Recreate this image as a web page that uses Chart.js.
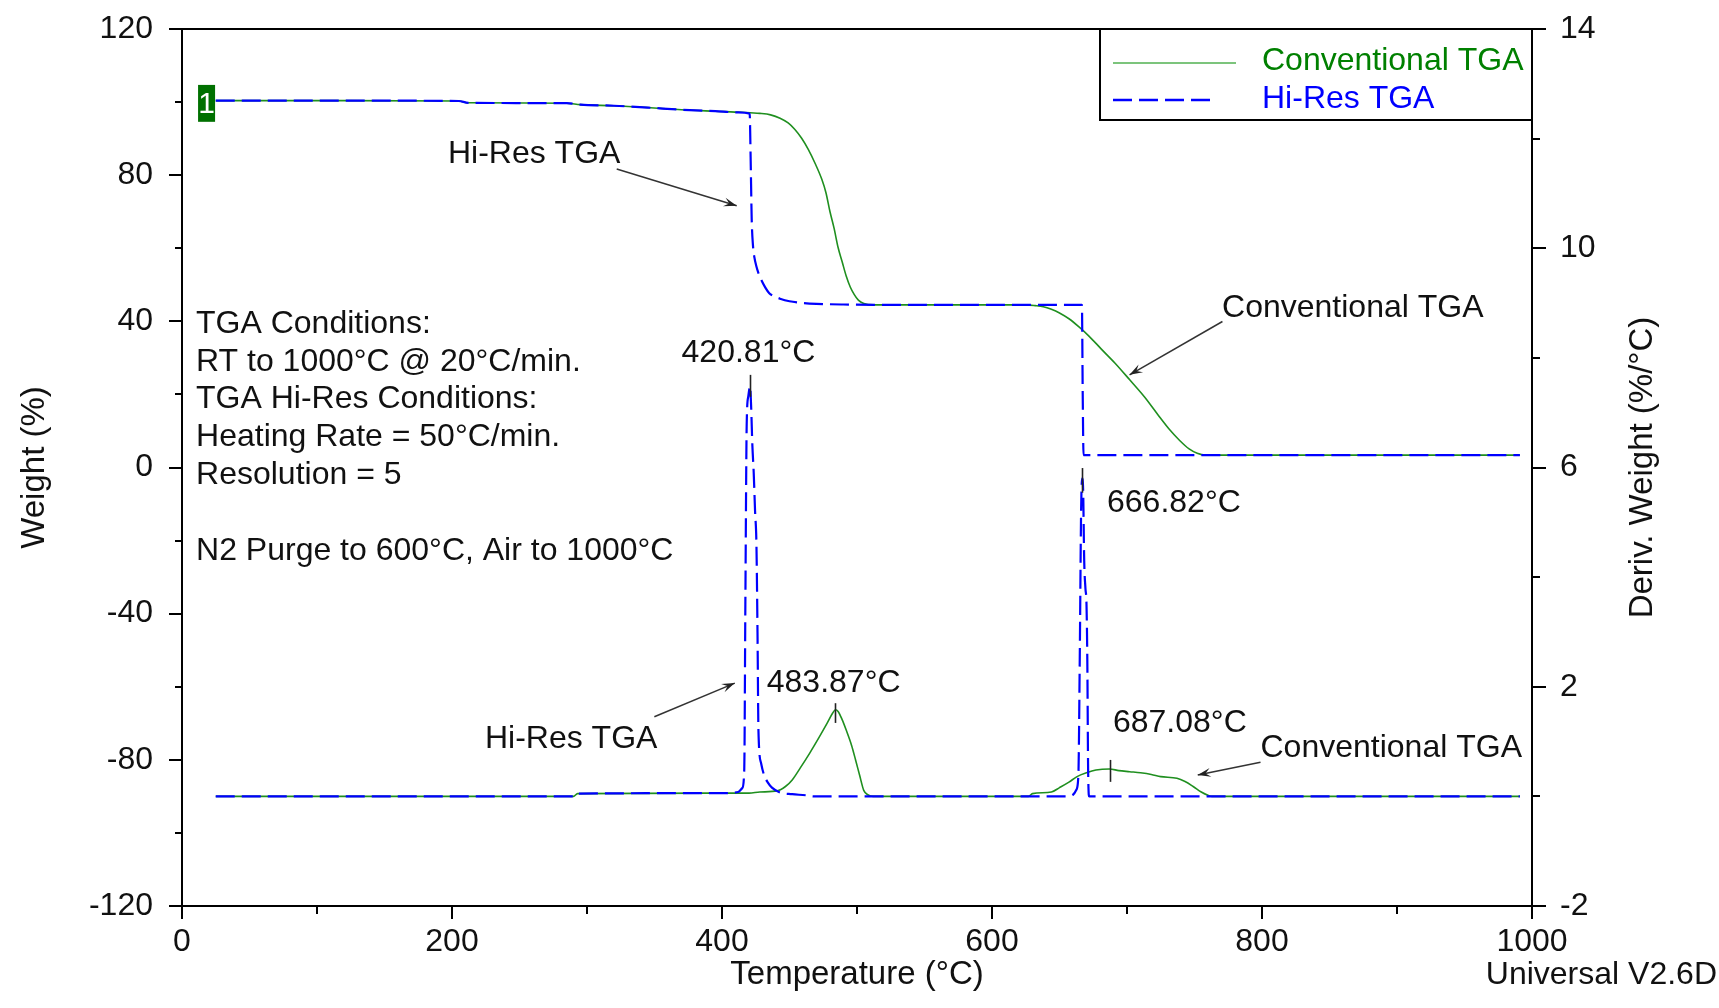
<!DOCTYPE html>
<html><head><meta charset="utf-8">
<script src="https://cdn.jsdelivr.net/npm/chart.js@4.4.1/dist/chart.umd.min.js"></script>
<style>html,body{margin:0;padding:0;background:#fff;overflow:hidden}#wrap{width:1719px;height:1008px;position:relative}</style>
</head><body><div id="wrap"><canvas id="c"></canvas></div>
<script>
// ---------- data ----------
const convWeightTemp = [25,120,205,212,285,295,320,345,370,395,415,428,436,443,449,454,459,464,469,474,477,480,483,486,489,492,495,498,501,505,512,560,625,632,638,644,650,657,664,672,681,691,702,713,724,731,739,746,752,758,800,900,991];
const convWeight     = [100.4,100.4,100.3,99.8,99.7,99.3,99.0,98.5,97.9,97.5,97.2,96.9,96.5,95.6,94.3,92.5,90.1,87.0,83.2,78.8,75.2,70.0,65.5,60.2,56.3,52.4,49.4,47.3,45.8,44.9,44.5,44.5,44.5,44.3,44.0,43.3,42.3,40.7,38.6,35.9,32.4,28.6,24.0,19.3,13.9,10.6,7.4,5.1,3.9,3.4,3.4,3.4,3.4];

const hiresWeightTemp = [25,120,205,212,285,295,320,345,370,395,412,420.5,421.2,422,423,424,425.5,427,429,432,435,439,443,450,458,470,490,520,600,666.6,667.2,667.8,700,800,900,991];
const hiresWeight     = [100.4,100.4,100.3,99.8,99.7,99.3,99.0,98.5,97.9,97.5,97.2,96.8,85,68,60.5,57.5,55,53.2,51.4,49.3,47.7,46.8,46.2,45.5,45.1,44.8,44.6,44.5,44.5,44.5,20,3.4,3.4,3.4,3.4,3.4];

const convDerivTemp = [25,290,293,420,428,441,447,452,458,465,472,478,482,484,486,489,492,496,499,502,505,508,512,627,630,644,650,657,663,670,677,687,694,702,710,718,725,737,743,749,755,760,763,991];
const convDeriv     = [0,0,0.05,0.06,0.08,0.1,0.18,0.30,0.52,0.79,1.08,1.34,1.52,1.58,1.55,1.40,1.21,0.93,0.66,0.38,0.11,0.03,0,0,0.05,0.08,0.16,0.26,0.36,0.43,0.48,0.50,0.47,0.45,0.43,0.40,0.36,0.33,0.27,0.18,0.08,0.02,0,0];

const hiresDerivTemp = [25,290,293,405,412,415,416.5,417.3,418.3,419.5,420.8,421.6,422.5,423.5,424.5,425.5,426.3,427,429,431,434,437,443,452,462,468,655,660,662.5,664,665,666,666.8,667.5,668.3,669.2,670,670.6,671.2,672,991];
const hiresDeriv     = [0,0,0.05,0.06,0.08,0.15,0.5,3.5,6.8,7.3,7.48,7.1,6.4,5.9,5.2,4.6,3.0,1.2,0.6,0.4,0.25,0.16,0.07,0.04,0.02,0,0,0.03,0.12,0.4,2.5,5.2,5.8,5.6,4.3,3.8,3.5,2.5,0.5,0,0];

const tempTicks   = [0,200,400,600,800,1000];
const weightTicks = [-120,-80,-40,0,40,80,120];
const derivTicks  = [-2,2,6,10,14];

const peakTemps = [420.81, 483.87, 666.82, 687.08];
const seriesNames = ['Conventional TGA', 'Hi-Res TGA'];
const conditionLines = ['TGA Conditions:', 'RT to 1000°C @ 20°C/min.', 'TGA Hi-Res Conditions:', 'Heating Rate = 50°C/min.', 'Resolution = 5', '', 'N2 Purge to 600°C, Air to 1000°C'];

// ---------- layout / annotation placement (data space) ----------
const peakNoteLayout = [
  {align:'center', lx:419.6, lw:29.0,   tick:[7.69,7.29]},
  {align:'center', lx:482.7, lw:-61.4,  tick:[1.70,1.34]},
  {align:'left',   lx:685.2, lw:-12.06, tick:[5.99,5.54]},
  {align:'left',   lx:689.6, lw:-72.28, tick:[0.665,0.265]}
];
const notes = [
  {text:seriesNames[1], t:197.0, w:83.4},
  {text:seriesNames[0], t:770.4, w:41.24},
  {text:seriesNames[1], t:224.4, w:-76.73},
  {text:seriesNames[0], t:798.9, w:-79.12}
];
const arrows = [
  {from:[322.0,81.67], to:[410.9,71.63]},
  {from:[770.7,39.96], to:[701.9,25.37]},
  {from:[349.9,-68.2], to:[409.5,-59.0]},
  {from:[798.9,-80.66], to:[752.4,-84.13]}
];

const FAM = "'Liberation Sans', Arial, sans-serif";
const TXT = '#111';
const GREEN = '#1f8f1f', BLUE = '#0000ff';
const zip = (xs, ys) => xs.map((x,i)=>({x, y:ys[i]}));

const decor = {
  id:'decor',
  afterDraw(chart){
    const {ctx, chartArea:a, scales} = chart;
    const X = v => scales.x.getPixelForValue(v);
    const YL = v => scales.y.getPixelForValue(v);
    const YR = v => scales.y2.getPixelForValue(v);
    const R = Math.round;
    const line = (x1,y1,x2,y2) => {ctx.beginPath(); ctx.moveTo(x1,y1); ctx.lineTo(x2,y2); ctx.stroke();};
    ctx.save();
    // frame
    ctx.strokeStyle = '#000'; ctx.lineWidth = 2; ctx.setLineDash([]);
    line(a.left-13, a.top, a.right+14, a.top);
    line(a.left-13, a.bottom, a.right+14, a.bottom);
    line(a.left, a.top, a.left, a.bottom+13);
    line(a.right, a.top, a.right, a.bottom+13);
    // ticks
    const minor = arr => arr.slice(1).map((v,i)=>(v+arr[i])/2);
    weightTicks.forEach(v=>line(a.left-13, R(YL(v)), a.left, R(YL(v))));
    minor(weightTicks).forEach(v=>line(a.left-7, R(YL(v)), a.left, R(YL(v))));
    derivTicks.forEach(v=>line(a.right, R(YR(v)), a.right+14, R(YR(v))));
    minor(derivTicks).forEach(v=>line(a.right, R(YR(v)), a.right+8, R(YR(v))));
    tempTicks.forEach(v=>line(R(X(v)), a.bottom, R(X(v)), a.bottom+13));
    minor(tempTicks).forEach(v=>line(R(X(v)), a.bottom, R(X(v)), a.bottom+8));

    // legend
    const lw = 432, lh = 91, lx = a.right - lw, ly = a.top;
    ctx.fillStyle = '#fff'; ctx.fillRect(lx, ly, lw, lh);
    ctx.strokeRect(lx, ly, lw, lh);
    ctx.lineWidth = 2; ctx.strokeStyle = '#7cc47c';
    line(lx+13, ly+34, lx+136, ly+34);
    ctx.strokeStyle = BLUE; ctx.lineWidth = 2.4; ctx.setLineDash([19,7]);
    line(lx+13, ly+71, lx+110, ly+71);
    ctx.setLineDash([]);
    ctx.font = '32px ' + FAM; ctx.textAlign = 'left'; ctx.textBaseline = 'alphabetic';
    ctx.fillStyle = '#008000'; ctx.fillText(seriesNames[0], lx+162, ly+41);
    ctx.fillStyle = BLUE; ctx.fillText(seriesNames[1], lx+162, ly+79);

    // titles
    ctx.fillStyle = TXT;
    ctx.font = '33px ' + FAM;
    ctx.textAlign = 'center';
    ctx.fillText('Temperature (°C)', (a.left+a.right)/2, a.bottom+78);
    ctx.font = '32px ' + FAM;
    ctx.textAlign = 'right';
    ctx.fillText('Universal V2.6D', chart.width-2, a.bottom+78);
    ctx.font = '33px ' + FAM;
    const cy = (a.top+a.bottom)/2;
    ctx.textAlign = 'center';
    ctx.save(); ctx.translate(44, cy); ctx.rotate(-Math.PI/2); ctx.fillText('Weight (%)', 0, 0); ctx.restore();
    ctx.save(); ctx.translate(a.right+120, cy); ctx.rotate(-Math.PI/2); ctx.fillText('Deriv. Weight (%/°C)', 0, 0); ctx.restore();
    ctx.font = '32px ' + FAM;

    // conditions text
    ctx.textAlign = 'left';
    const cx0 = X(10.4), cy0 = YL(36.87);
    conditionLines.forEach((s,i)=>ctx.fillText(s, cx0, cy0 + i*37.8));

    // notes
    notes.forEach(n=>ctx.fillText(n.text, X(n.t), YL(n.w)));

    // peak labels + tick marks
    peakTemps.forEach((t,i)=>{
      const L = peakNoteLayout[i];
      ctx.textAlign = L.align;
      ctx.fillStyle = TXT;
      ctx.fillText(t.toFixed(2)+'°C', X(L.lx), YL(L.lw));
      ctx.strokeStyle = '#222'; ctx.lineWidth = 1.6;
      line(R(X(t))+0.5, YR(L.tick[0]), R(X(t))+0.5, YR(L.tick[1]));
    });

    // arrows
    ctx.strokeStyle = '#333'; ctx.fillStyle = '#222'; ctx.lineWidth = 1.5;
    arrows.forEach(ar=>{
      const x1 = X(ar.from[0]), y1 = YL(ar.from[1]), x2 = X(ar.to[0]), y2 = YL(ar.to[1]);
      line(x1,y1,x2,y2);
      const ang = Math.atan2(y2-y1, x2-x1), L = 13, W = 4.5;
      ctx.beginPath();
      ctx.moveTo(x2, y2);
      ctx.lineTo(x2 - L*Math.cos(ang) + W*Math.sin(ang), y2 - L*Math.sin(ang) - W*Math.cos(ang));
      ctx.lineTo(x2 - L*0.6*Math.cos(ang), y2 - L*0.6*Math.sin(ang));
      ctx.lineTo(x2 - L*Math.cos(ang) - W*Math.sin(ang), y2 - L*Math.sin(ang) + W*Math.cos(ang));
      ctx.closePath(); ctx.fill();
    });

    // run marker "1"
    const bx1 = X(11.9), bx2 = X(24.5), by1 = YL(104.7), by2 = YL(94.6);
    ctx.fillStyle = '#007000'; ctx.fillRect(bx1, by1, bx2-bx1, by2-by1);
    ctx.fillStyle = '#fff'; ctx.font = "30px 'Liberation Sans Narrow', " + FAM;
    ctx.textAlign = 'center'; ctx.textBaseline = 'middle';
    ctx.fillText('1', (bx1+bx2)/2, (by1+by2)/2 + 1);
    ctx.restore();
  }
};

Chart.defaults.font.family = FAM;
Chart.defaults.font.size = 32;
Chart.defaults.color = TXT;

const noPad = s => { s.paddingTop = 0; s.paddingBottom = 0; s.paddingLeft = 0; s.paddingRight = 0; };

new Chart(document.getElementById('c'), {
  type:'line',
  data:{datasets:[
    {label:seriesNames[1], data:zip(hiresWeightTemp, hiresWeight), yAxisID:'y', borderColor:BLUE, borderWidth:2.2, borderDash:[19,7], order:0},
    {label:seriesNames[1]+' deriv', data:zip(hiresDerivTemp, hiresDeriv), yAxisID:'y2', borderColor:BLUE, borderWidth:2.2, borderDash:[19,7], order:0},
    {label:seriesNames[0], data:zip(convWeightTemp, convWeight), yAxisID:'y', borderColor:GREEN, borderWidth:1.6, order:1},
    {label:seriesNames[0]+' deriv', data:zip(convDerivTemp, convDeriv), yAxisID:'y2', borderColor:GREEN, borderWidth:1.6, order:1}
  ]},
  options:{
    responsive:true, maintainAspectRatio:false, animation:false, events:[],
    layout:{padding:{top:29, left:0, right:0, bottom:0}},
    elements:{point:{radius:0}, line:{cubicInterpolationMode:'monotone', fill:false}},
    plugins:{legend:{display:false}, tooltip:{enabled:false}},
    scales:{
      x:{type:'linear', position:'bottom', min:0, max:1000,
        grid:{display:false, drawTicks:false}, border:{display:false},
        ticks:{padding:17, maxRotation:0, autoSkip:false, callback:v=>String(v)},
        afterBuildTicks:s=>{s.ticks = tempTicks.map(v=>({value:v}));},
        afterFit:s=>{s.height = 102; noPad(s);}},
      y:{type:'linear', position:'left', min:-120, max:120,
        grid:{display:false, drawTicks:false}, border:{display:false},
        ticks:{padding:29, autoSkip:false, callback:v=>String(v)},
        afterBuildTicks:s=>{s.ticks = weightTicks.map(v=>({value:v}));},
        afterFit:s=>{s.width = 182; noPad(s);}},
      y2:{type:'linear', position:'right', min:-2, max:14,
        grid:{display:false, drawTicks:false}, border:{display:false},
        ticks:{padding:28, autoSkip:false, callback:v=>String(v)},
        afterBuildTicks:s=>{s.ticks = derivTicks.map(v=>({value:v}));},
        afterFit:s=>{s.width = 187; noPad(s);}}
    }
  },
  plugins:[decor]
});
</script></body></html>
